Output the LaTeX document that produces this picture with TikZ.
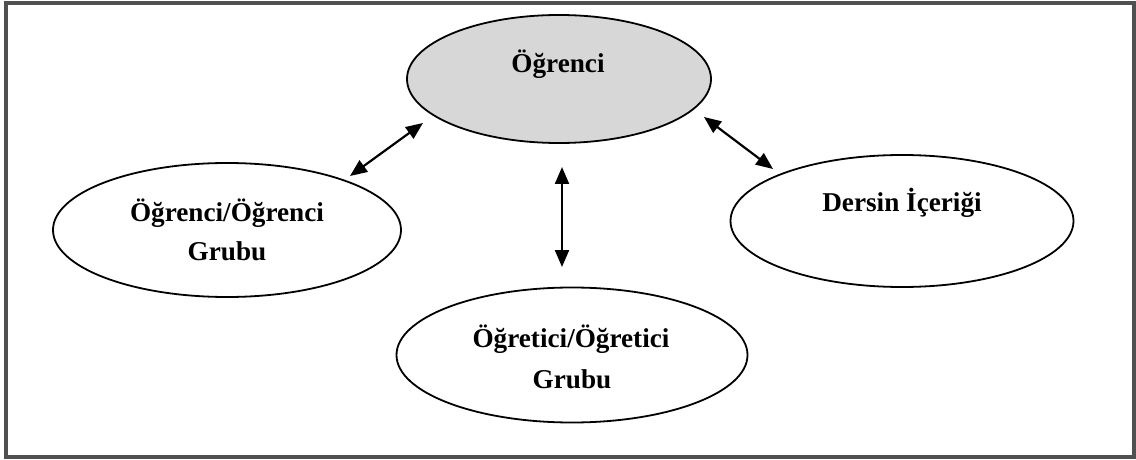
\documentclass[tikz,border=0pt]{standalone}
\usepackage{fontspec}
\setmainfont{Liberation Serif}
\usetikzlibrary{shapes.geometric,arrows.meta}
\definecolor{fillgray}{RGB}{215,215,215}
\definecolor{framegray}{RGB}{80,80,80}
\tikzset{
  oval/.style={ellipse, draw=black, line width=0.9pt, inner sep=0pt},
  lbl/.style={font=\fontsize{13.6}{16}\selectfont\bfseries, anchor=base, inner sep=0pt},
  biarrow/.style={line width=1.1pt, {Triangle[length=8.5pt,width=7pt]}-{Triangle[length=8.5pt,width=7pt]}}
}
\begin{document}
\begin{tikzpicture}[x=0.5pt,y=-0.5pt]
\useasboundingbox (0,0) rectangle (1136,460);
\draw[framegray, line width=1.6pt] (6,3) rectangle (1134,457);
% ellipses
\node[oval, fill=fillgray, minimum width=152pt, minimum height=64pt] (top) at (559,79) {};
\node[oval, fill=white, minimum width=174pt, minimum height=67pt] (left) at (227,230) {};
\node[oval, fill=white, minimum width=171.5pt, minimum height=66pt] (right) at (902,221) {};
\node[oval, fill=white, minimum width=175.5pt, minimum height=67.5pt] (bottom) at (572,355) {};
% labels
\node[lbl] (ttop) at (558,73) {Öğrenci};
\node[lbl] (tleft1) at (227,221) {Öğrenci/Öğrenci};
\node[lbl] (tleft2) at (227,260) {Grubu};
\node[lbl] (tright) at (902,212) {Dersin İçeriği};
\node[lbl] (tbot1) at (571,347) {Öğretici/Öğretici};
\node[lbl] (tbot2) at (572,388) {Grubu};
% arrow end points
\coordinate (la) at (350,176);
\coordinate (lb) at (423,123);
\coordinate (ma) at (562,167);
\coordinate (mb) at (562,267);
\coordinate (ra) at (704,117);
\coordinate (rb) at (773,169);
\draw[biarrow] (la) -- (lb);
\draw[biarrow] (ma) -- (mb);
\draw[biarrow] (ra) -- (rb);
\end{tikzpicture}
\end{document}
